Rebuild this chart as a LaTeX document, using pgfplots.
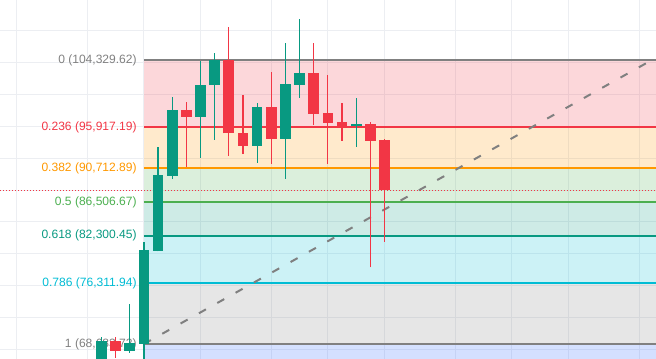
\documentclass[border=0pt]{standalone}
\usepackage{pgfplots}
\pgfplotsset{compat=1.18}
\usepackage{pgfplotstable}
\usepackage{fontspec}
\setmainfont{Liberation Sans}
\definecolor{tvred}{HTML}{F23645}
\definecolor{tvorange}{HTML}{FF9800}
\definecolor{tvgreenl}{HTML}{4CAF50}
\definecolor{tvteal}{HTML}{089981}
\definecolor{tvcyan}{HTML}{00BCD4}
\definecolor{tvgray}{HTML}{808080}
\definecolor{tvblue}{HTML}{2962FF}
\definecolor{gridc}{HTML}{ECEEF2}
\newcommand\lf{\fontsize{12.1}{14}\selectfont}

% up candles: index open high low close
\pgfplotstableread{
i o h l c
0 66050 69560 64790 69060
2 67840 73700 67590 68850
3 68683.72 81450 66420 80480
4 80400 93450 80300 89900
5 89810 99720 89390 98050
7 97210 104200 92070 101190
8 101190 105250 94290 104329.62
11 93570 98900 91440 98390
13 94450 106400 89430 101320
14 101230 109480 99600 102700
18 96050 99560 93450 96300
}\upcandles

% down candles: index open high low close
\pgfplotstableread{
i o h l c
1 69100 69560 66930 67840
6 98050 99100 90940 97210
9 104329.62 108510 92320 95130
10 95130 99940 92530 93570
12 98390 102860 91280 94450
15 102700 106460 96170 97590
16 97680 102450 91310 96460
17 96550 98930 94200 96050
19 96300 96510 78310 94200
20 94290 94410 81520 88010
}\downcandles

\begin{document}
\begin{tikzpicture}
\begin{axis}[
  scale only axis, width=656bp, height=359bp,
  xmin=-7.173, xmax=39.188, ymin=66800.9, ymax=111860.5,
  axis line style={draw=none},
  xtick={-6,-1,3,7,12,16,20,25,29,33,38},
  ytick={68000,72000,...,108000},
  xticklabels={}, yticklabels={},
  major tick length=0pt,
  grid=major, grid style={gridc, line width=1bp},
  clip=true,
]
% zones
\addplot[draw=none, fill=tvred, fill opacity=0.2] coordinates {(3,104329.62) (40,104329.62) (40,95917.19) (3,95917.19)} -- cycle;
\addplot[draw=none, fill=tvorange, fill opacity=0.2] coordinates {(3,95917.19) (40,95917.19) (40,90712.89) (3,90712.89)} -- cycle;
\addplot[draw=none, fill=tvgreenl, fill opacity=0.2] coordinates {(3,90712.89) (40,90712.89) (40,86506.67) (3,86506.67)} -- cycle;
\addplot[draw=none, fill=tvteal, fill opacity=0.2] coordinates {(3,86506.67) (40,86506.67) (40,82300.45) (3,82300.45)} -- cycle;
\addplot[draw=none, fill=tvcyan, fill opacity=0.2] coordinates {(3,82300.45) (40,82300.45) (40,76311.94) (3,76311.94)} -- cycle;
\addplot[draw=none, fill=tvgray, fill opacity=0.2] coordinates {(3,76311.94) (40,76311.94) (40,68683.72) (3,68683.72)} -- cycle;
\addplot[draw=none, fill=tvblue, fill opacity=0.2] coordinates {(3,68683.72) (40,68683.72) (40,60000) (3,60000)} -- cycle;
% level lines
\addplot[tvgray, line width=2bp] coordinates {(3,104329.62) (40,104329.62)};
\addplot[tvred, line width=2bp] coordinates {(3,95917.19) (40,95917.19)};
\addplot[tvorange, line width=2bp] coordinates {(3,90712.89) (40,90712.89)};
\addplot[tvgreenl, line width=2bp] coordinates {(3,86506.67) (40,86506.67)};
\addplot[tvteal, line width=2bp] coordinates {(3,82300.45) (40,82300.45)};
\addplot[tvcyan, line width=2bp] coordinates {(3,76311.94) (40,76311.94)};
\addplot[tvgray, line width=2bp] coordinates {(3,68683.72) (40,68683.72)};
% trend line
\addplot[tvgray, line width=2bp, dash pattern=on 8bp off 13bp] coordinates {(3,68683.72) (38.9,104329.62)};
% labels
\node[anchor=east, inner sep=0pt, text=tvgray, font=\lf] at (axis cs:2.5,104329.62) {0 (104,329.62)};
\node[anchor=east, inner sep=0pt, text=tvred, font=\lf] at (axis cs:2.5,95917.19) {0.236 (95,917.19)};
\node[anchor=east, inner sep=0pt, text=tvorange, font=\lf] at (axis cs:2.5,90712.89) {0.382 (90,712.89)};
\node[anchor=east, inner sep=0pt, text=tvgreenl, font=\lf] at (axis cs:2.5,86506.67) {0.5 (86,506.67)};
\node[anchor=east, inner sep=0pt, text=tvteal, font=\lf] at (axis cs:2.5,82300.45) {0.618 (82,300.45)};
\node[anchor=east, inner sep=0pt, text=tvcyan, font=\lf] at (axis cs:2.5,76311.94) {0.786 (76,311.94)};
\node[anchor=east, inner sep=0pt, text=tvgray, font=\lf] at (axis cs:2.5,68683.72) {1 (68,683.72)};
% current price
\addplot[tvred, line width=1bp, dash pattern=on 1bp off 2bp] coordinates {(-8,88010) (40,88010)};
% wicks
\addplot[draw=none, mark=none, error bars/.cd, y dir=plus, y explicit, error mark=none,
  error bar style={draw=tvteal, solid, line width=1.2bp}]
  table[x=i, y=l, y error expr=\thisrow{h}-\thisrow{l}] {\upcandles};
\addplot[draw=none, mark=none, error bars/.cd, y dir=plus, y explicit, error mark=none,
  error bar style={draw=tvred, solid, line width=1.2bp}]
  table[x=i, y=l, y error expr=\thisrow{h}-\thisrow{l}] {\downcandles};
% bodies
\addplot[draw=none, mark=none, error bars/.cd, y dir=plus, y explicit, error mark=none,
  error bar style={draw=tvteal, solid, line width=10.7bp}]
  table[x=i, y=o, y error expr=\thisrow{c}-\thisrow{o}] {\upcandles};
\addplot[draw=none, mark=none, error bars/.cd, y dir=plus, y explicit, error mark=none,
  error bar style={draw=tvred, solid, line width=10.7bp}]
  table[x=i, y=c, y error expr=\thisrow{o}-\thisrow{c}] {\downcandles};
\end{axis}
\pgfresetboundingbox
\path (current axis.south west) rectangle (current axis.north east);
\end{tikzpicture}
\end{document}
